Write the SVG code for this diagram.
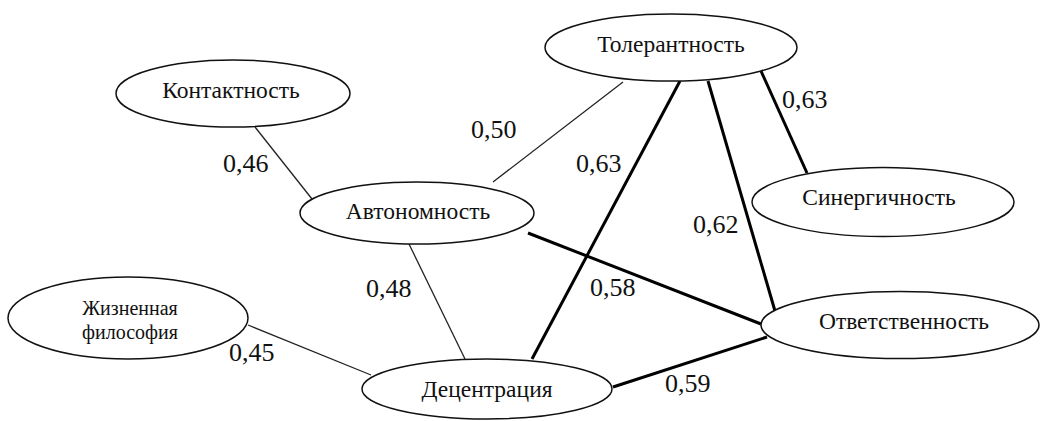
<svg xmlns="http://www.w3.org/2000/svg" width="1040" height="421" viewBox="0 0 1040 421">
<rect width="1040" height="421" fill="#fff"/>
<g id="connectors" fill="none">
<g stroke="#222" stroke-width="1.3">
<line x1="255" y1="127" x2="312" y2="199"/>
<line x1="623" y1="82" x2="493" y2="182"/>
<line x1="409" y1="244" x2="465" y2="359"/>
<line x1="248" y1="325" x2="371" y2="375"/>
</g>
<g stroke="#000" stroke-width="3">
<line x1="680" y1="81" x2="532" y2="359"/>
<line x1="708" y1="81" x2="775" y2="311"/>
<line x1="761" y1="71" x2="807" y2="173"/>
<line x1="528" y1="233" x2="761" y2="324"/>
<line x1="613" y1="387" x2="767" y2="337"/>
</g>
<text font-family="Liberation Serif" font-size="26" fill="#111" x="223" y="172">0,46</text>
<text font-family="Liberation Serif" font-size="26" fill="#111" x="471" y="138">0,50</text>
<text font-family="Liberation Serif" font-size="26" fill="#111" x="576" y="172">0,63</text>
<text font-family="Liberation Serif" font-size="26" fill="#111" x="782" y="108">0,63</text>
<text font-family="Liberation Serif" font-size="26" fill="#111" x="693" y="233">0,62</text>
<text font-family="Liberation Serif" font-size="26" fill="#111" x="590" y="296">0,58</text>
<text font-family="Liberation Serif" font-size="26" fill="#111" x="665" y="392">0,59</text>
<text font-family="Liberation Serif" font-size="26" fill="#111" x="366" y="297">0,48</text>
<text font-family="Liberation Serif" font-size="26" fill="#111" x="229" y="361">0,45</text>
</g>
<g id="n-kontaktnost"><ellipse cx="233" cy="93.5" rx="117" ry="33.5" fill="#fff" stroke="#111" stroke-width="1.5"/><text font-family="Liberation Serif" font-size="23.5" fill="#111" text-anchor="middle" x="231" y="98">Контактность</text></g>
<g id="n-tolerantnost"><ellipse cx="671" cy="47.5" rx="126" ry="33.5" fill="#fff" stroke="#111" stroke-width="1.5"/><text font-family="Liberation Serif" font-size="23.5" fill="#111" text-anchor="middle" x="671" y="52">Толерантность</text></g>
<g id="n-sinergichnost"><ellipse cx="883" cy="202" rx="131" ry="34.5" fill="#fff" stroke="#111" stroke-width="1.5"/><text font-family="Liberation Serif" font-size="23.5" fill="#111" text-anchor="middle" x="879" y="205">Синергичность</text></g>
<g id="n-avtonomnost"><ellipse cx="417" cy="213" rx="117" ry="31" fill="#fff" stroke="#111" stroke-width="1.5"/><text font-family="Liberation Serif" font-size="23.5" fill="#111" text-anchor="middle" x="418" y="219">Автономность</text></g>
<g id="n-zhizn"><ellipse cx="128" cy="318" rx="120" ry="41" fill="#fff" stroke="#111" stroke-width="1.5"/><text font-family="Liberation Serif" font-size="20" fill="#111" text-anchor="middle" x="130" y="315">Жизненная</text><text font-family="Liberation Serif" font-size="20" fill="#111" text-anchor="middle" x="130" y="339">философия</text></g>
<g id="n-decentr"><ellipse cx="487" cy="389" rx="125" ry="30" fill="#fff" stroke="#111" stroke-width="1.5"/><text font-family="Liberation Serif" font-size="23.5" fill="#111" text-anchor="middle" x="487" y="397">Децентрация</text></g>
<g id="n-otvetstv"><ellipse cx="900" cy="325" rx="139" ry="33.5" fill="#fff" stroke="#111" stroke-width="1.5"/><text font-family="Liberation Serif" font-size="23.5" fill="#111" text-anchor="middle" x="904" y="329">Ответственность</text></g>
</svg>
